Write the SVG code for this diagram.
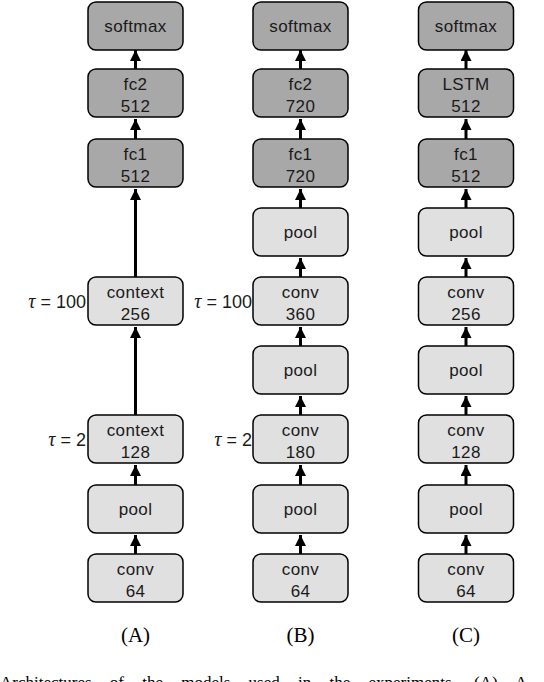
<svg xmlns="http://www.w3.org/2000/svg" width="544" height="682" viewBox="0 0 544 682">
<style>
.dk{fill:#a8a8a8;stroke:#000;stroke-width:1.5}
.lt{fill:#e0e0e0;stroke:#000;stroke-width:1.5}
.t{font-family:"Liberation Sans",Arial,sans-serif;font-size:17px;letter-spacing:0.4px;fill:#1a1a1a;text-anchor:middle}
.tau{font-family:"Liberation Sans",Arial,sans-serif;font-size:18px;fill:#1a1a1a;text-anchor:end}
.cap{font-family:"Liberation Serif","Times New Roman",serif;font-size:21px;fill:#000;text-anchor:middle}
.fig{font-family:"Liberation Serif","Times New Roman",serif;font-size:17px;word-spacing:14px;fill:#000}
.ar{stroke:#000;stroke-width:3;fill:none;marker-end:url(#ah)}
</style>
<defs>
<marker id="ah" markerUnits="userSpaceOnUse" viewBox="0 0 10 10" refX="10" refY="5" markerWidth="11" markerHeight="11" orient="auto">
<path d="M0,0 L10,5 L0,10 z" fill="#000"/>
</marker>
</defs>
<g id="connectors">
<line class="ar" x1="135.5" y1="69" x2="135.5" y2="50"/>
<line class="ar" x1="135.5" y1="139" x2="135.5" y2="119"/>
<line class="ar" x1="135.5" y1="277" x2="135.5" y2="189"/>
<line class="ar" x1="135.5" y1="415" x2="135.5" y2="327"/>
<line class="ar" x1="135.5" y1="485" x2="135.5" y2="465"/>
<line class="ar" x1="135.5" y1="554" x2="135.5" y2="535"/>
<line class="ar" x1="300.5" y1="69" x2="300.5" y2="50"/>
<line class="ar" x1="300.5" y1="139" x2="300.5" y2="119"/>
<line class="ar" x1="300.5" y1="208" x2="300.5" y2="189"/>
<line class="ar" x1="300.5" y1="277" x2="300.5" y2="258"/>
<line class="ar" x1="300.5" y1="346" x2="300.5" y2="327"/>
<line class="ar" x1="300.5" y1="415" x2="300.5" y2="396"/>
<line class="ar" x1="300.5" y1="485" x2="300.5" y2="465"/>
<line class="ar" x1="300.5" y1="554" x2="300.5" y2="535"/>
<line class="ar" x1="466" y1="69" x2="466" y2="50"/>
<line class="ar" x1="466" y1="139" x2="466" y2="119"/>
<line class="ar" x1="466" y1="208" x2="466" y2="189"/>
<line class="ar" x1="466" y1="277" x2="466" y2="258"/>
<line class="ar" x1="466" y1="346" x2="466" y2="327"/>
<line class="ar" x1="466" y1="415" x2="466" y2="396"/>
<line class="ar" x1="466" y1="485" x2="466" y2="465"/>
<line class="ar" x1="466" y1="554" x2="466" y2="535"/>
</g>
<!-- Column A -->
<g id="A-softmax"><rect class="dk" x="88" y="2" width="95" height="48" rx="8"/><text class="t" x="135.5" y="32">softmax</text></g>
<g id="A-fc2"><rect class="dk" x="88" y="69" width="95" height="48" rx="8"/><text class="t" x="135.5" y="90">fc2</text><text class="t" x="135.5" y="112">512</text></g>
<g id="A-fc1"><rect class="dk" x="88" y="139" width="95" height="48" rx="8"/><text class="t" x="135.5" y="160">fc1</text><text class="t" x="135.5" y="182">512</text></g>
<g id="A-context256"><rect class="lt" x="88" y="277" width="95" height="48" rx="8"/><text class="t" x="135.5" y="298">context</text><text class="t" x="135.5" y="320">256</text></g>
<g id="A-context128"><rect class="lt" x="88" y="415" width="95" height="48" rx="8"/><text class="t" x="135.5" y="436">context</text><text class="t" x="135.5" y="458">128</text></g>
<g id="A-pool"><rect class="lt" x="88" y="485" width="95" height="48" rx="8"/><text class="t" x="135.5" y="515">pool</text></g>
<g id="A-conv64"><rect class="lt" x="88" y="554" width="95" height="48" rx="8"/><text class="t" x="135.5" y="575">conv</text><text class="t" x="135.5" y="597">64</text></g>
<!-- Column B -->
<g id="B-softmax"><rect class="dk" x="253" y="2" width="95" height="48" rx="8"/><text class="t" x="300.5" y="32">softmax</text></g>
<g id="B-fc2"><rect class="dk" x="253" y="69" width="95" height="48" rx="8"/><text class="t" x="300.5" y="90">fc2</text><text class="t" x="300.5" y="112">720</text></g>
<g id="B-fc1"><rect class="dk" x="253" y="139" width="95" height="48" rx="8"/><text class="t" x="300.5" y="160">fc1</text><text class="t" x="300.5" y="182">720</text></g>
<g id="B-pool3"><rect class="lt" x="253" y="208" width="95" height="48" rx="8"/><text class="t" x="300.5" y="238">pool</text></g>
<g id="B-conv360"><rect class="lt" x="253" y="277" width="95" height="48" rx="8"/><text class="t" x="300.5" y="298">conv</text><text class="t" x="300.5" y="320">360</text></g>
<g id="B-pool2"><rect class="lt" x="253" y="346" width="95" height="48" rx="8"/><text class="t" x="300.5" y="376">pool</text></g>
<g id="B-conv180"><rect class="lt" x="253" y="415" width="95" height="48" rx="8"/><text class="t" x="300.5" y="436">conv</text><text class="t" x="300.5" y="458">180</text></g>
<g id="B-pool1"><rect class="lt" x="253" y="485" width="95" height="48" rx="8"/><text class="t" x="300.5" y="515">pool</text></g>
<g id="B-conv64"><rect class="lt" x="253" y="554" width="95" height="48" rx="8"/><text class="t" x="300.5" y="575">conv</text><text class="t" x="300.5" y="597">64</text></g>
<!-- Column C -->
<g id="C-softmax"><rect class="dk" x="418.5" y="2" width="95" height="48" rx="8"/><text class="t" x="466" y="32">softmax</text></g>
<g id="C-lstm"><rect class="dk" x="418.5" y="69" width="95" height="48" rx="8"/><text class="t" x="466" y="90">LSTM</text><text class="t" x="466" y="112">512</text></g>
<g id="C-fc1"><rect class="dk" x="418.5" y="139" width="95" height="48" rx="8"/><text class="t" x="466" y="160">fc1</text><text class="t" x="466" y="182">512</text></g>
<g id="C-pool3"><rect class="lt" x="418.5" y="208" width="95" height="48" rx="8"/><text class="t" x="466" y="238">pool</text></g>
<g id="C-conv256"><rect class="lt" x="418.5" y="277" width="95" height="48" rx="8"/><text class="t" x="466" y="298">conv</text><text class="t" x="466" y="320">256</text></g>
<g id="C-pool2"><rect class="lt" x="418.5" y="346" width="95" height="48" rx="8"/><text class="t" x="466" y="376">pool</text></g>
<g id="C-conv128"><rect class="lt" x="418.5" y="415" width="95" height="48" rx="8"/><text class="t" x="466" y="436">conv</text><text class="t" x="466" y="458">128</text></g>
<g id="C-pool1"><rect class="lt" x="418.5" y="485" width="95" height="48" rx="8"/><text class="t" x="466" y="515">pool</text></g>
<g id="C-conv64"><rect class="lt" x="418.5" y="554" width="95" height="48" rx="8"/><text class="t" x="466" y="575">conv</text><text class="t" x="466" y="597">64</text></g>
<!-- tau labels -->
<g id="labels">
<text class="tau" x="86" y="308"><tspan font-family="Liberation Serif,serif" font-style="italic" font-size="20">τ</tspan> = 100</text>
<text class="tau" x="86" y="446"><tspan font-family="Liberation Serif,serif" font-style="italic" font-size="20">τ</tspan> = 2</text>
<text class="tau" x="252" y="308"><tspan font-family="Liberation Serif,serif" font-style="italic" font-size="20">τ</tspan> = 100</text>
<text class="tau" x="252" y="446"><tspan font-family="Liberation Serif,serif" font-style="italic" font-size="20">τ</tspan> = 2</text>
<text class="cap" x="135.5" y="642">(A)</text>
<text class="cap" x="300.5" y="642">(B)</text>
<text class="cap" x="466" y="642">(C)</text>
<text class="fig" x="0" y="688">Architectures of the models used in the experiments. (A) A</text>
</g>
</svg>
